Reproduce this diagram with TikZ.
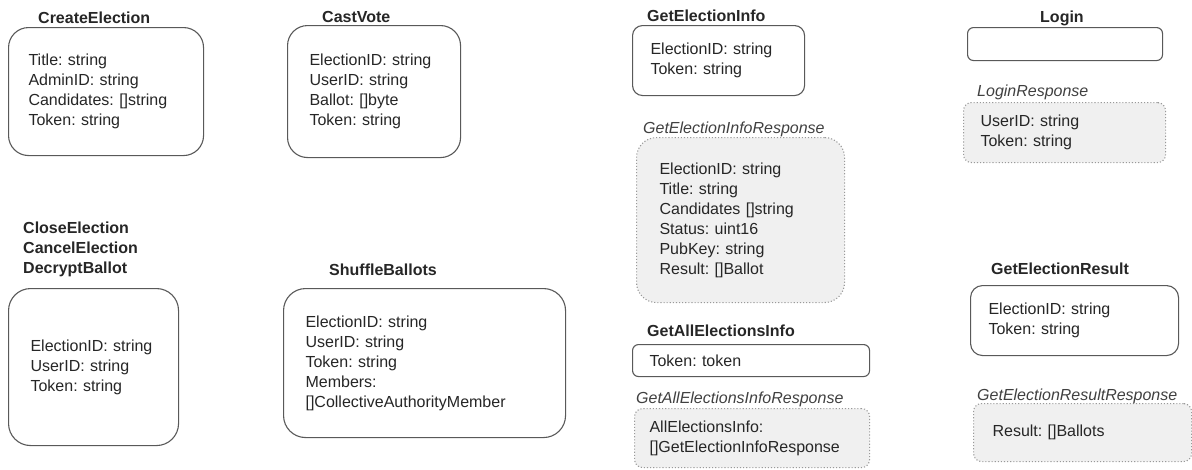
\documentclass[tikz,border=0pt]{standalone}
\usepackage{fontspec}
\setmainfont{Liberation Sans}
\frenchspacing
\usetikzlibrary{positioning}

\begin{document}
\begin{tikzpicture}[x=1pt, y=-1pt, font=\fontsize{16}{20}\selectfont]
				\tikzstyle{every node}=[text=black!85, inner sep=0pt]
				\tikzstyle{req}=[draw=black!65, line width=1.1pt, fill=white, anchor=north west, align=left]
				\tikzstyle{resp}=[req, draw=black!40, dotted, fill=black!6]
				\tikzstyle{title}=[anchor=base west, align=left, font=\fontsize{16}{20}\selectfont\bfseries]
				\tikzstyle{rtitle}=[anchor=base west, text=black!75, font=\fontsize{16}{20}\selectfont\itshape]
				
				\useasboundingbox (0,0) rectangle (1192,469);
				
				% requests
				\node[req, rounded corners=20pt, text width=155pt, inner xsep=20pt, minimum height=128pt] at (8, 27) (create) {Title: string\\AdminID: string\\Candidates: []string\\Token: string};
				\node[req, rounded corners=20pt, text width=129pt, inner xsep=22pt, minimum height=132pt] at (287, 25) (cast) {ElectionID: string\\UserID: string\\Ballot: []byte\\Token: string};
				\node[req, rounded corners=10pt, text width=136pt, inner xsep=18pt, minimum height=70pt] at (632, 25) (info) {ElectionID: string\\Token: string};
				\node[req, rounded corners=6pt, minimum width=195pt, minimum height=33pt] at (967, 27) (login) {};
				\node[req, rounded corners=22pt, text width=126pt, inner xsep=22pt, minimum height=157pt] at (8, 288) (close) {ElectionID: string\\UserID: string\\Token: string};
				\node[req, rounded corners=22pt, text width=238pt, inner xsep=22pt, minimum height=149pt] at (283, 288) (shuffle) {ElectionID: string\\UserID: string\\Token: string\\Members:\\{}[]CollectiveAuthorityMember};
				\node[req, rounded corners=6pt, text width=203pt, inner xsep=17pt, minimum height=32pt] at (632, 344) (allinfo) {Token: token};
				\node[req, rounded corners=12pt, text width=172pt, inner xsep=18pt, minimum height=70pt] at (970, 285) (result) {ElectionID: string\\Token: string};
				
				% responses
				\node[resp, rounded corners=20pt, text width=162pt, inner xsep=23pt, minimum height=165pt] at (636, 137) (infoR) {ElectionID: string\\Title: string\\Candidates []string\\Status: uint16\\PubKey: string\\Result: []Ballot};
				\node[resp, rounded corners=8pt, text width=168pt, inner xsep=17pt, minimum height=60pt] at (963, 102) (loginR) {UserID: string\\Token: string};
				\node[resp, rounded corners=8pt, text width=205pt, inner xsep=15pt, minimum height=59pt] at (634, 408) (allinfoR) {AllElectionsInfo:\\{}[]GetElectionInfoResponse};
				\node[resp, rounded corners=8pt, text width=180pt, inner xsep=19pt, minimum height=58pt] at (973, 403) (resultR) {Result: []Ballots};
				
				% titles
				\node[title] at (38, 23) (createT) {CreateElection};
				\node[title] at (322, 22) (castT) {CastVote};
				\node[title] at (647, 21) (infoT) {GetElectionInfo};
				\node[title] at (1040, 22) (loginT) {Login};
				\node[title] at (23, 273) (closeT) {CloseElection\\CancelElection\\DecryptBallot};
				\node[title] at (329, 275) (shuffleT) {ShuffleBallots};
				\node[title] at (647, 336) (allinfoT) {GetAllElectionsInfo};
				\node[title] at (991, 274) (resultT) {GetElectionResult};
				\node[rtitle] at (643, 133) (infoRT) {GetElectionInfoResponse};
				\node[rtitle] at (977, 96) (loginRT) {LoginResponse};
				\node[rtitle] at (636, 403) (allinfoRT) {GetAllElectionsInfoResponse};
				\node[rtitle] at (977, 400) (resultRT) {GetElectionResultResponse};
\end{tikzpicture}
\end{document}
